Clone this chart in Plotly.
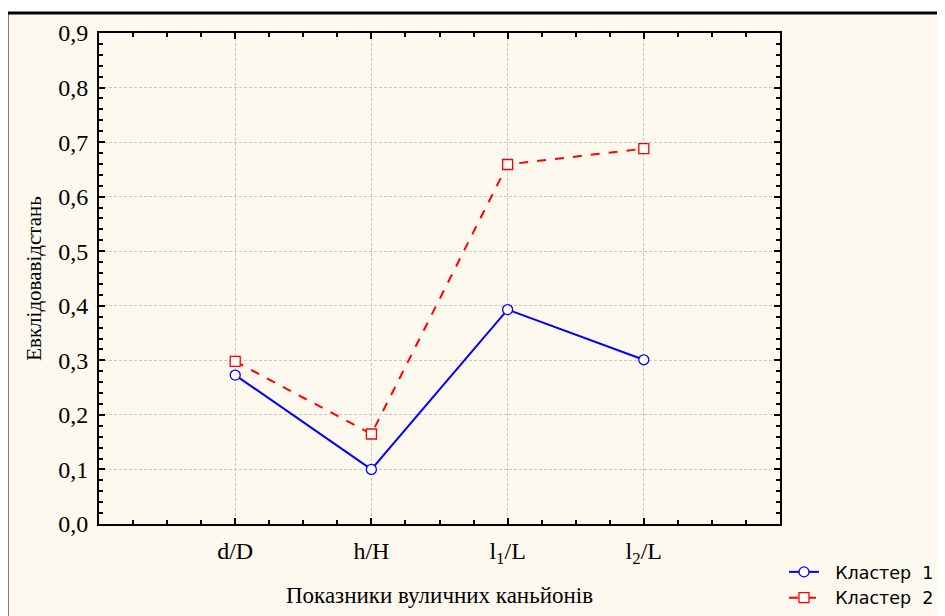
import plotly.graph_objects as go

categories = ["d/D", "h/H", "l<sub>1</sub>/L", "l<sub>2</sub>/L"]
cluster1 = [0.273, 0.100, 0.393, 0.301]
cluster2 = [0.298, 0.165, 0.659, 0.688]
names = ["\u00a0\u00a0Кластер\u00a0\u00a01", "\u00a0\u00a0Кластер\u00a0\u00a02"]
y_ticks = [0.0, 0.1, 0.2, 0.3, 0.4, 0.5, 0.6, 0.7, 0.8, 0.9]

xpos = list(range(len(categories)))

fig = go.Figure()
fig.add_trace(go.Scatter(
    x=xpos, y=cluster1, name=names[0], mode="lines+markers",
    line=dict(color="#0000ff", width=2),
    marker=dict(symbol="circle", size=10, color="white", line=dict(color="#0000ff", width=1.3)),
))
fig.add_trace(go.Scatter(
    x=xpos, y=cluster2, name=names[1], mode="lines+markers",
    line=dict(color="#ff0000", width=2, dash="dash"),
    marker=dict(symbol="square", size=10, color="white", line=dict(color="#ff0000", width=1.3)),
))

OFF = 8  # page body margin
W, H = 945 - OFF, 616 - OFF
L, T = 99 - OFF, 33 - OFF
R = W - (780 - OFF)
B = H - (524 - OFF)
pw, ph = W - L - R, H - T - B

def px_to_paper_x(px):
    return (px - OFF - L) / pw

def px_to_paper_y(py):
    return (H - B - (py - OFF)) / ph

fig.add_shape(type="rect", xref="paper", yref="paper",
              x0=px_to_paper_x(7), x1=px_to_paper_x(1000),
              y0=px_to_paper_y(700), y1=px_to_paper_y(13),
              line=dict(color="black", width=3), fillcolor="#fdf9ef", layer="below")

serif = "Liberation Serif, Times New Roman, serif"
axis_font = dict(family=serif, size=24, color="black")

fig.update_layout(
    width=W, height=H,
    margin=dict(l=L, r=R, t=T, b=B, autoexpand=False),
    paper_bgcolor="white", plot_bgcolor="white",
    separators=", ",
    showlegend=True,
    legend=dict(x=px_to_paper_x(784), y=px_to_paper_y(554), xanchor="left", yanchor="top",
                bgcolor="rgba(0,0,0,0)", font=dict(family="DejaVu Sans, Arial, sans-serif", size=17.5, color="black"),
                itemwidth=30, tracegroupgap=0),
    xaxis=dict(range=[-1, 4], tickmode="array", tickvals=xpos, ticktext=categories,
               showgrid=True, gridcolor="#c8c8c8", griddash="3px,2px", gridwidth=1,
               showline=True, linecolor="black", linewidth=2, mirror="ticks",
               ticks="inside", ticklen=6, tickwidth=2, tickcolor="black",
               minor=dict(dtick=0.25, tick0=0, ticks="inside", ticklen=4, tickwidth=1.5, tickcolor="black", showgrid=False),
               tickfont=axis_font, zeroline=False, ticklabelstandoff=4,
               title=dict(text="Показники вуличних каньйонів", font=dict(family=serif, size=23, color="black"), standoff=20)),
    yaxis=dict(range=[0, 0.9], tickmode="array", tickvals=y_ticks, tickformat=".1f",
               showgrid=True, gridcolor="#c8c8c8", griddash="3px,2px", gridwidth=1,
               showline=True, linecolor="black", linewidth=2, mirror="ticks",
               ticks="inside", ticklen=6, tickwidth=2, tickcolor="black",
               minor=dict(dtick=0.02, tick0=0, ticks="inside", ticklen=4, tickwidth=1.5, tickcolor="black", showgrid=False),
               tickfont=axis_font, zeroline=False, ticklabelstandoff=4,
               title=dict(text="Евклідовавідстань", font=dict(family=serif, size=21, color="black"), standoff=11)),
)

fig.write_html("out.html")
